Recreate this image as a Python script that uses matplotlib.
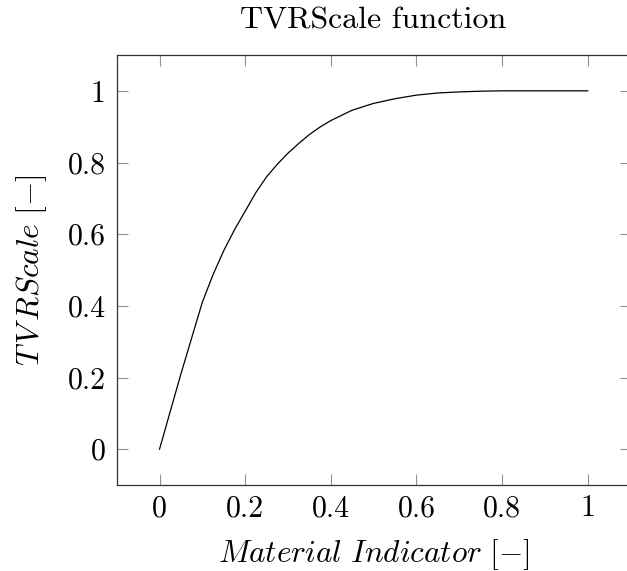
import matplotlib
matplotlib.use('Agg')
import matplotlib.pyplot as plt

# valeurs
material = [0.0, 0.025, 0.05, 0.075, 0.1, 0.125, 0.15, 0.175, 0.2, 0.225,
            0.25, 0.275, 0.3, 0.325, 0.35, 0.375, 0.4, 0.45, 0.5, 0.55,
            0.6, 0.65, 0.7, 0.75, 0.8, 0.9, 1.0]
tvrscale = [0.0, 0.105, 0.21, 0.31, 0.41, 0.487, 0.554, 0.612, 0.664, 0.716,
            0.760, 0.795, 0.826, 0.853, 0.878, 0.899, 0.917, 0.946, 0.965,
            0.978, 0.988, 0.994, 0.997, 0.999, 1.0, 1.0, 1.0]

xticks = [0, 0.2, 0.4, 0.6, 0.8, 1]
xtick_labels = ['0', '0.2', '0.4', '0.6', '0.8', '1']
yticks = [0, 0.2, 0.4, 0.6, 0.8, 1]
ytick_labels = ['0', '0.2', '0.4', '0.6', '0.8', '1']

plt.rcParams['font.family'] = 'serif'
plt.rcParams['font.serif'] = ['cmr10']
plt.rcParams['mathtext.fontset'] = 'cm'
plt.rcParams['axes.formatter.use_mathtext'] = True

fig = plt.figure(figsize=(6.27, 5.71), dpi=100)
W, H = 627, 571
left, right, top, bottom = 116.7, 630.5, 55, 485
ax = fig.add_axes([left / W, (H - bottom) / H, (right - left) / W, (bottom - top) / H])

ax.plot(material, tvrscale, color='black', lw=0.9)

ax.set_xlim(-0.1, 1.1)
ax.set_ylim(-0.1, 1.1)
ax.set_xticks(xticks)
ax.set_xticklabels(xtick_labels)
ax.set_yticks(yticks)
ax.set_yticklabels(ytick_labels)
ax.tick_params(direction='in', length=8, width=0.8, color='#909090',
               top=True, right=True, labelsize=21.5)
ax.tick_params(axis='x', pad=7)
ax.tick_params(axis='y', pad=8)
for s in ax.spines.values():
    s.set_linewidth(0.9)
    s.set_color('#333333')

# titres des axes en mode math (comme pgfplots)
ax.set_xlabel(r'$Material\ Indicator\ [-]$', fontsize=22.5, labelpad=10.5)
ax.set_ylabel(r'$T\,V\,RScale\ [-]$', fontsize=22.5, labelpad=13)
fig.text(373.6 / W, 1 - 21 / H, 'TVRScale function', fontsize=23,
         ha='center', va='center')

fig.savefig('out.png', dpi=100)
